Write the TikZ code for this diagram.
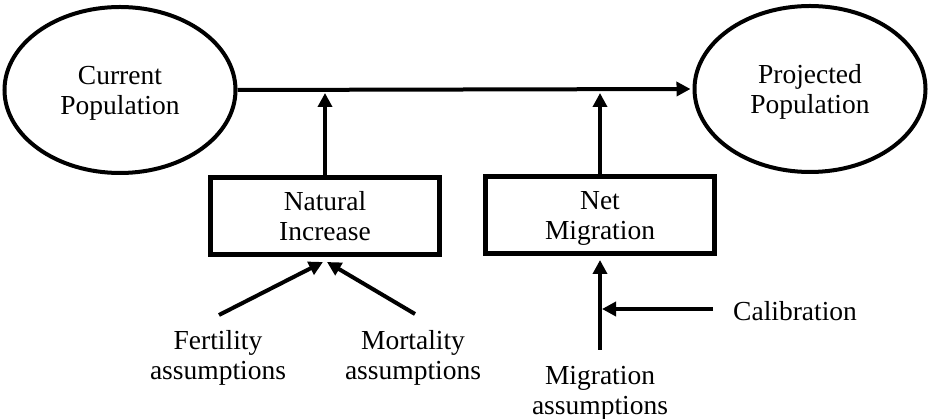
\documentclass[tikz,border=0pt]{standalone}
\usepackage{fontspec}
\setmainfont{Liberation Serif}
\usetikzlibrary{shapes.geometric,arrows.meta,calc}
\tikzset{
  popnode/.style={ellipse,draw,line width=4pt,minimum width=231pt,minimum height=166pt,align=center,inner sep=0pt,text depth=0pt},
  boxnode/.style={rectangle,draw,line width=5pt,minimum width=229pt,minimum height=77pt,align=center,inner sep=0pt,text depth=0pt},
  txtnode/.style={align=center,inner sep=0pt,text depth=0pt},
  arr/.style={line width=4pt,-{Triangle[length=14pt,width=14pt]}},
}
\begin{document}
\begin{tikzpicture}[x=1pt,y=-1pt,font=\fontsize{27.5}{30}\selectfont]
\useasboundingbox (0,0) rectangle (929,419);
\node[popnode] (cur) at (120,90) {Current\\Population};
\node[popnode] (proj) at (810,89) {Projected\\Population};
\node[boxnode] (ni) at (325,216) {Natural\\Increase};
\node[boxnode] (nm) at (600,215) {Net\\Migration};
\node[txtnode] (fert) at (218,355) {Fertility\\assumptions};
\node[txtnode] (mort) at (413,355) {Mortality\\assumptions};
\node[txtnode] (mig) at (600,390) {Migration\\assumptions};
\node[txtnode,anchor=west] (cal) at (733,311) {Calibration};
\coordinate (fs) at (219,315);
\coordinate (ms) at (415,314);
\coordinate (gs) at (600,350);
\coordinate (cs) at (713,309);
\draw[arr,shorten >=2pt] (cur.east) -- (proj.west);
\draw[arr] (ni.north) -- ([yshift=-3pt]ni.north |- cur.east);
\draw[arr] (nm.north) -- ([yshift=-3pt]nm.north |- cur.east);
\draw[arr] (fs) -- ([xshift=-2pt,yshift=-5pt]ni.south);
\draw[arr] (ms) -- ([xshift=2pt,yshift=-5pt]ni.south);
\draw[arr] (gs) -- ([yshift=-4pt]nm.south);
\draw[arr,shorten >=2pt] (cs) -- (gs |- cs);
\end{tikzpicture}
\end{document}
